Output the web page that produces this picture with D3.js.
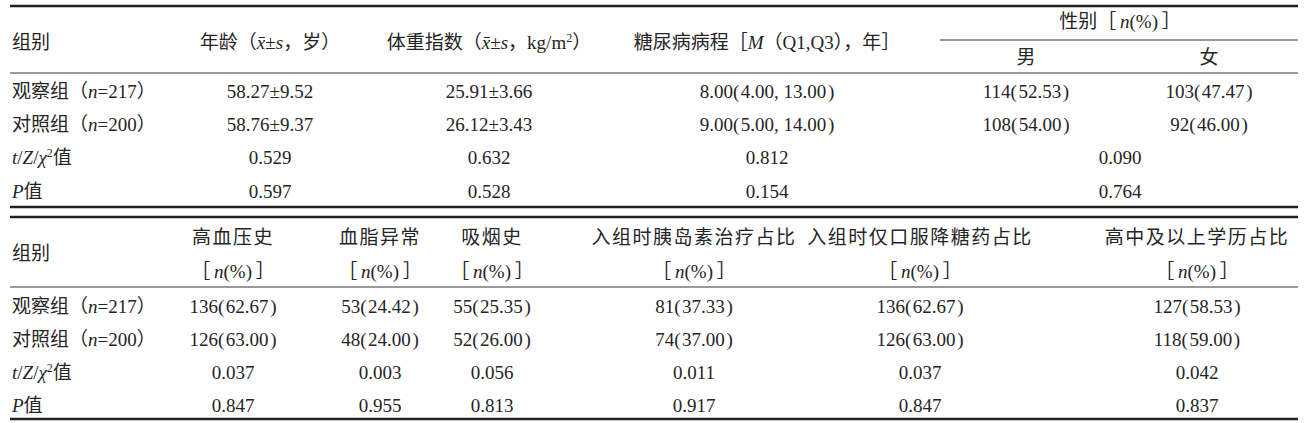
<!DOCTYPE html>
<html>
<head>
<meta charset="utf-8">
<script src="https://cdn.jsdelivr.net/npm/d3@7"></script>
<style>
body { margin: 0; background: #fff; }
text { font-family: "Liberation Serif", "Noto Sans CJK SC", serif; font-size: 19px; fill: #252525; }
</style>
</head>
<body>
<svg id="chart" width="1306" height="423"></svg>
<script>
// row labels (same for both tables)
const rowKeys = ["obs", "ctrl", "stat", "p"];
const rowLabels = ["观察组（_n_=217）", "对照组（_n_=200）", "_t_/_Z_/_χ_^2^值", "_P_值"];

// upper table
const topKeys = ["age", "bmi", "dur", "male", "female"];
const topHeads = ["年龄（_x̄_±_s_，岁）", "体重指数（_x̄_±_s_，kg/m^2^）", "糖尿病病程［_M_（Q1,Q3），年］"];
const sexHead = "性别［\u2009_n_(%)\u2009］";
const sexSub = ["男", "女"];
const ageVals = ["58.27±9.52", "58.76±9.37"];
const bmiVals = ["25.91±3.66", "26.12±3.43"];
const durVals = ["8.00(4.00, 13.00)", "9.00(5.00, 14.00)"];
const maleVals = ["114(52.53)", "108(54.00)"];
const femaleVals = ["103(47.47)", "92(46.00)"];
const topStat = ["0.529", "0.632", "0.812", "0.090"];
const topP = ["0.597", "0.528", "0.154", "0.764"];

// lower table
const botHeads = ["高血压史", "血脂异常", "吸烟史", "入组时胰岛素治疗占比", "入组时仅口服降糖药占比", "高中及以上学历占比"];
const botUnit = "［\u2009_n_(%)\u2009］";
const obsVals = ["136(62.67)", "53(24.42)", "55(25.35)", "81(37.33)", "136(62.67)", "127(58.53)"];
const ctrlVals = ["126(63.00)", "48(24.00)", "52(26.00)", "74(37.00)", "126(63.00)", "118(59.00)"];
const botStat = ["0.037", "0.003", "0.056", "0.011", "0.037", "0.042"];
const botP = ["0.847", "0.955", "0.813", "0.917", "0.847", "0.837"];

const svg = d3.select("#chart");
const left = 10, right = 1298, labelX = 12;
const base = 6.5; // centre -> alphabetic baseline

const xTop = d3.scaleOrdinal().domain(["age", "bmi", "dur", "male", "female", "sex"])
    .range([270, 489, 767, 1026, 1209, 1120]);
const xBot = d3.scaleOrdinal().domain(botHeads)
    .range([233, 380, 492, 694, 920, 1197]);
const yTop = d3.scalePoint().domain(rowKeys).range([91, 191]);
const yBot = d3.scalePoint().domain(rowKeys).range([306, 405]);

// _x_ = italic, ^x^ = superscript
function rich(sel, str){
    const parts = str.split(/(_[^_]+_|\^[^^]+\^)/).filter(function(s){ return s; });
    let raised = false;
    parts.forEach(function(p){
        const t = sel.append("tspan");
        if(raised){ t.attr("dy", 7); raised = false; }
        if(p[0] == "_"){
            t.style("font-style", "italic").text(p.slice(1, -1));
        }
        else if(p[0] == "^"){
            t.attr("dy", -7).style("font-size", "12px").text(p.slice(1, -1));
            raised = true;
        }
        else{
            t.text(p);
        }
    });
    return sel;
}

function label(x, y, str, anchor, spacing){
    const t = svg.append("text")
        .attr("x", x)
        .attr("y", y + base)
        .attr("text-anchor", anchor || "middle");
    if(spacing) t.style("letter-spacing", spacing + "px");
    return rich(t, str);
}

// slightly loose brackets like the journal typesetting
function loose(v){
    return v.replace(/\(/g, "(\u200a").replace(/\)/g, "\u200a)");
}

function rule(x1, x2, y, w, c){
    svg.append("line")
        .attr("x1", x1).attr("x2", x2)
        .attr("y1", y).attr("y2", y)
        .attr("stroke", c).attr("stroke-width", w);
}

// ---- upper table ----
rule(left, right, 6, 2.4, "#222");
rule(940, right, 40, 1.2, "#333");
rule(left, right, 73, 1.6, "#777");
rule(left, right, 207, 2.4, "#222");

label(labelX, 42, "组别", "start");
topHeads.forEach(function(h, i){ label(xTop(topKeys[i]), 42, h); });
label(xTop("sex"), 21, sexHead);
label(xTop("male"), 57, sexSub[0]);
label(xTop("female"), 57, sexSub[1]);

rowKeys.forEach(function(k, i){ label(labelX, yTop(k), rowLabels[i], "start"); });

const topCols = [ageVals, bmiVals, durVals, maleVals, femaleVals];
topCols.forEach(function(vals, j){
    vals.forEach(function(v, i){ label(xTop(topKeys[j]), yTop(rowKeys[i]), loose(v)); });
});
const statCols = ["age", "bmi", "dur", "sex"];
statCols.forEach(function(c, j){
    label(xTop(c), yTop("stat"), topStat[j]);
    label(xTop(c), yTop("p"), topP[j]);
});

// ---- lower table ----
rule(left, right, 217, 2.4, "#222");
rule(left, right, 287, 1.6, "#777");
rule(left, right, 419, 2.6, "#222");

label(labelX, 253, "组别", "start");
botHeads.forEach(function(h){
    label(xBot(h), 237, h, "middle", 1.5);
    label(xBot(h), 271, botUnit);
});
rowKeys.forEach(function(k, i){ label(labelX, yBot(k), rowLabels[i], "start"); });

const botRows = [obsVals, ctrlVals, botStat, botP];
botRows.forEach(function(vals, i){
    vals.forEach(function(v, j){ label(xBot(botHeads[j]), yBot(rowKeys[i]), loose(v)); });
});
</script>
</body>
</html>
